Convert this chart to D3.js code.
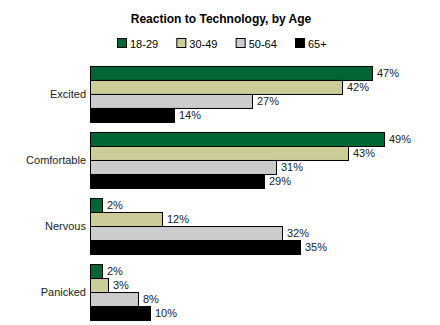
<!DOCTYPE html>
<html><head><meta charset="utf-8">
<script src="https://cdn.jsdelivr.net/npm/d3@7"></script>
<style>body{margin:0;background:#fff;} svg{display:block;font-family:"Liberation Sans",Arial,sans-serif;}</style>
</head><body>
<script>
const categories = ["Excited", "Comfortable", "Nervous", "Panicked"];
const seriesNames = ["18-29", "30-49", "50-64", "65+"];
const v1829 = [47, 49, 2, 2];
const v3049 = [42, 43, 12, 3];
const v5064 = [27, 31, 32, 8];
const v65 = [14, 29, 35, 10];
const colors = ["#006633", "#CCCC99", "#CCCCCC", "#000000"];
const seriesValues = [v1829, v3049, v5064, v65];

const W = 440, H = 325;
const svg = d3.select("body").append("svg").attr("width", W).attr("height", H);

svg.append("text").attr("x", 221).attr("y", 23).attr("text-anchor", "middle")
  .attr("font-size", 12).attr("font-weight", "bold").text("Reaction to Technology, by Age");

// legend
const legX = d3.scalePoint().domain(seriesNames).range([117, 295]);
const leg = svg.append("g").selectAll("g").data(seriesNames).join("g")
  .attr("transform", d => `translate(${legX(d)},38)`);
leg.append("rect").attr("x", 0.5).attr("y", 0.5).attr("width", 9).attr("height", 9)
  .attr("fill", (d, i) => colors[i]).attr("stroke", "#000");
leg.append("text").attr("x", 13).attr("y", 9.5).attr("font-size", 11).text(d => d);

const y = d3.scaleBand().domain(categories).range([61, 325]).paddingInner(10 / 66).paddingOuter(0.075);
const yi = d3.scaleBand().domain(d3.range(seriesNames.length)).range([0, y.bandwidth()]);
const x = d3.scaleLinear().domain([0, 50]).range([90, 390]);

const groups = svg.append("g").selectAll("g").data(categories).join("g")
  .attr("transform", d => `translate(0,${y(d)})`);

groups.each(function(cat, ci) {
  const g = d3.select(this);
  seriesValues.forEach((vals, si) => {
    const val = vals[ci];
    g.append("rect").attr("x", x(0) + 0.5).attr("y", yi(si) + 0.5)
      .attr("width", x(val) - x(0)).attr("height", yi.bandwidth())
      .attr("fill", colors[si]).attr("stroke", "#000").attr("stroke-width", 1);
    g.append("text").attr("x", x(val) + 5).attr("y", yi(si) + yi.bandwidth() / 2 + 1)
      .attr("dominant-baseline", "middle").attr("font-size", 11).attr("fill", "#222")
      .text(val + "%");
  });
  g.append("text").attr("x", 86).attr("y", y.bandwidth() / 2 + 1)
    .attr("text-anchor", "end").attr("dominant-baseline", "middle")
    .attr("font-size", 11).attr("fill", "#222").text(cat);
});
</script>
</body></html>
